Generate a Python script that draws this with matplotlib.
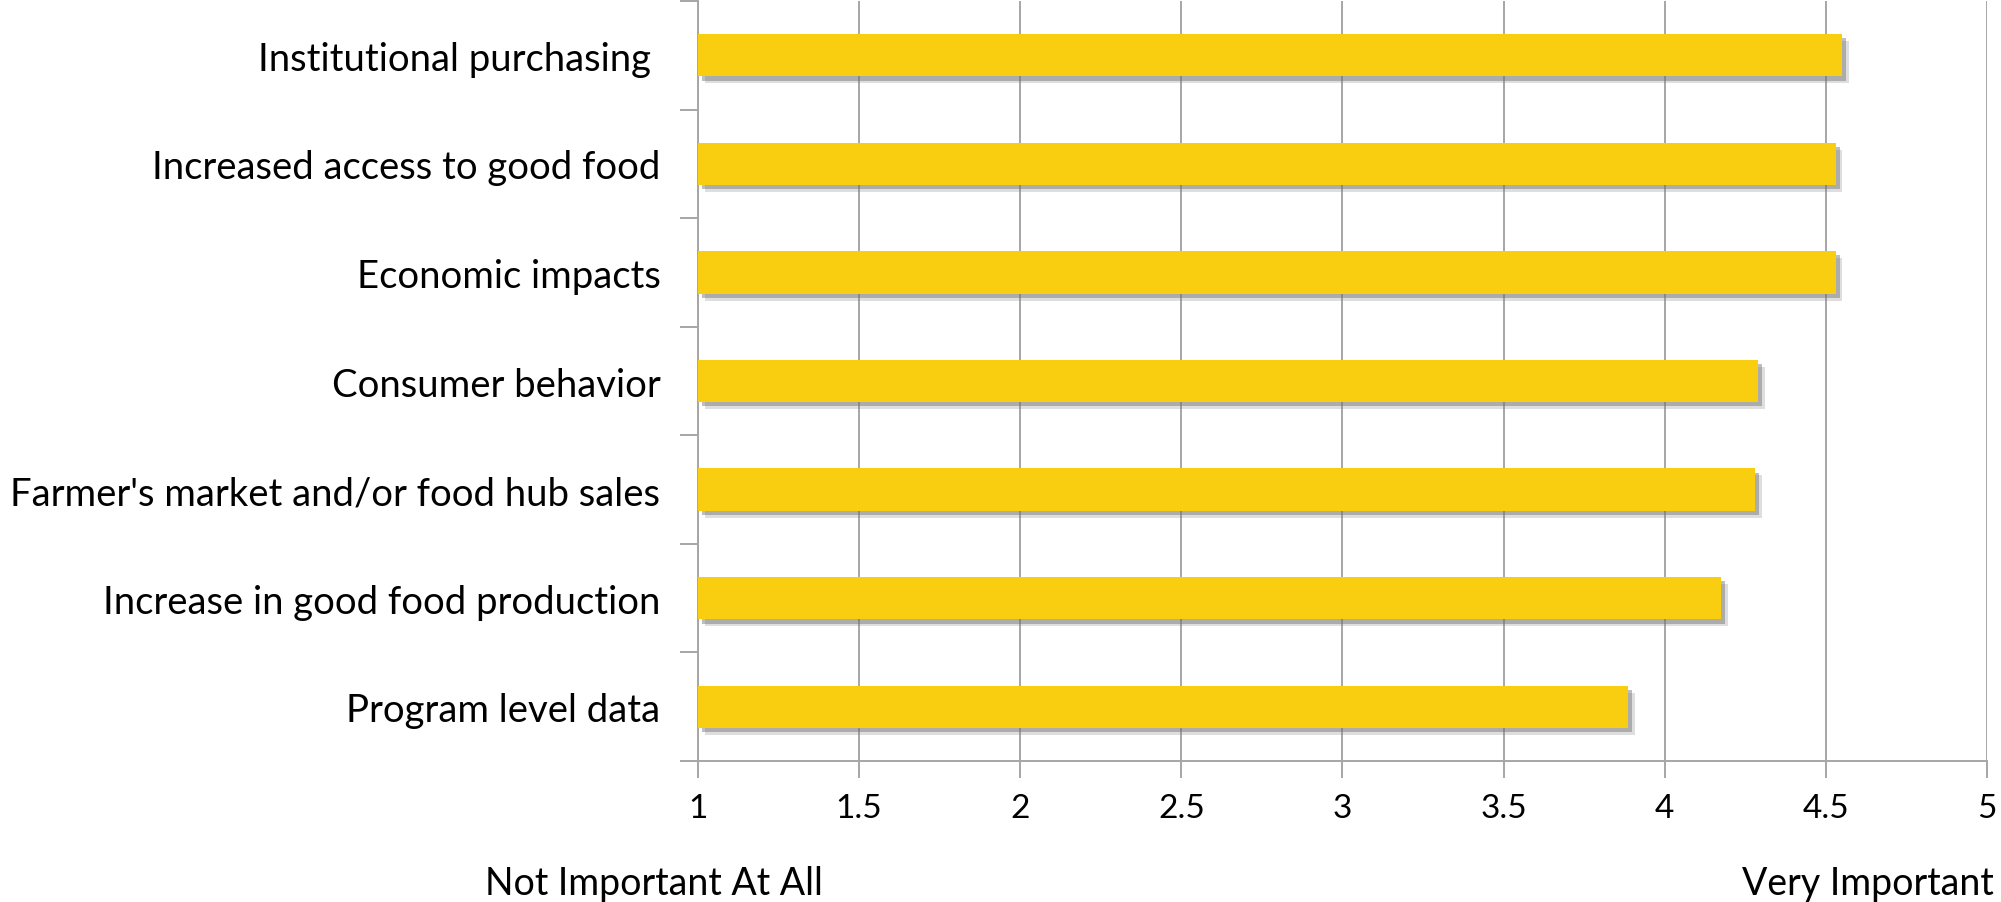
import matplotlib.pyplot as plt
import matplotlib.patheffects as pe
import numpy as np

categories = ["Institutional purchasing ", "Increased access to good food", "Economic impacts",
              "Consumer behavior", "Farmer's market and/or food hub sales",
              "Increase in good food production", "Program level data"]
scores = [4.55, 4.53, 4.53, 4.29, 4.28, 4.175, 3.886]
xticks = [1, 1.5, 2, 2.5, 3, 3.5, 4, 4.5, 5]
xtick_labels = ["1", "1.5", "2", "2.5", "3", "3.5", "4", "4.5", "5"]

plt.rcParams["font.family"] = ["Lato", "DejaVu Sans"]
grey = "#a6a6a6"

fig = plt.figure(figsize=(20.01, 9.03), dpi=100)
ax = fig.add_axes([0.3488, 0.1561, 0.993 - 0.3488, 0.9978 - 0.1561])

y = np.arange(len(categories))[::-1]
lefts = np.full(len(scores), 1.0)
bars = ax.barh(y, np.array(scores) - lefts, left=lefts, height=0.39, color="#f9cd10", zorder=3)
for b in bars:
    b.set_path_effects([pe.SimplePatchShadow(offset=(5, -5), shadow_rgbFace="#7f7f7f", alpha=0.25),
                        pe.SimplePatchShadow(offset=(3, -3), shadow_rgbFace="#6f6f6f", alpha=0.45),
                        pe.Normal()])

ax.set_xlim(1, 5)
ax.set_ylim(-0.5, len(categories) - 0.5)
ax.set_xticks(xticks)
ax.set_xticklabels(xtick_labels, fontsize=24)
ax.xaxis.grid(True, color=grey, linewidth=1.4, zorder=0)

# category boundaries carry the ticks, labels sit in between
ax.set_yticks(np.arange(-0.5, len(categories), 1.0))
ax.set_yticklabels([])
ax.set_yticks(y, minor=True)
ax.set_yticklabels(categories, minor=True, fontsize=27.5)
ax.tick_params(axis="y", which="minor", length=0, pad=27)
ax.tick_params(axis="y", which="major", length=13, color=grey, width=1.4)
ax.tick_params(axis="x", length=12, color=grey, width=1.4, pad=11)

for s in ["top", "right"]:
    ax.spines[s].set_visible(False)
for s in ["left", "bottom"]:
    ax.spines[s].set_color(grey)
    ax.spines[s].set_linewidth(1.4)

fig.text(485 / 2001, 1 - 884 / 903, "Not Important At All", fontsize=27, ha="left", va="center")
fig.text(1994 / 2001, 1 - 884 / 903, "Very Important", fontsize=27, ha="right", va="center")

fig.savefig("out.png", dpi=100)
